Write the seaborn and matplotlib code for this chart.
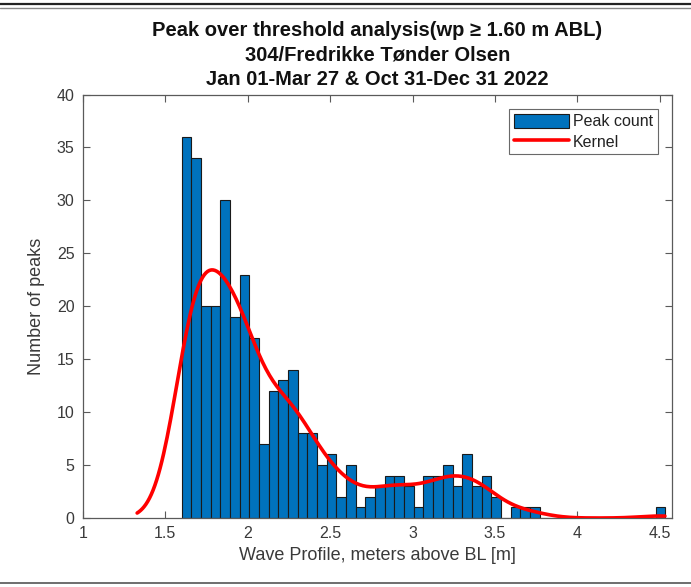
import numpy as np
import pandas as pd
import seaborn as sns
import matplotlib
matplotlib.use("Agg")
import matplotlib.pyplot as plt
from matplotlib.patches import Patch
from matplotlib.lines import Line2D

# Peak counts per wave-profile bin (bins start at the 1.60 m threshold)
bin_start = 1.60
bin_width = 0.05865
peak_counts = [36, 34, 20, 20, 30, 19, 23, 17, 7, 12,
               13, 14, 8, 8, 5, 6, 2, 5, 1, 2,
               3, 4, 4, 3, 1, 4, 4, 5, 3, 6,
               3, 4, 2, 0, 1, 1, 1, 0, 0, 0,
               0, 0, 0, 0, 0, 0, 0, 0, 0, 1]
kernel_bandwidth = 0.12

title_lines = ["Peak over threshold analysis(wp \u2265 1.60 m ABL)",
               "304/Fredrikke T\u00f8nder Olsen",
               "Jan 01-Mar 27 & Oct 31-Dec 31 2022"]
x_ticks = [1, 1.5, 2, 2.5, 3, 3.5, 4, 4.5]
y_ticks = [0, 5, 10, 15, 20, 25, 30, 35, 40]

n_bins = len(peak_counts)
bin_end = bin_start + bin_width * n_bins
centers = bin_start + bin_width * (np.arange(n_bins) + 0.5)
df = pd.DataFrame({"wp": centers, "n": peak_counts})

sns.set_theme(style="white")
plt.rcParams["font.family"] = ["Liberation Sans", "DejaVu Sans"]

fig = plt.figure(figsize=(6.91, 5.87), dpi=100)
ax = fig.add_axes([0.1197, 0.1175, 0.9725 - 0.1197, 0.839 - 0.1175])

w = np.asarray(peak_counts, float)
mean = np.sum(w * centers) / w.sum()
wstd = np.sqrt(np.sum(w * (centers - mean) ** 2) / (w.sum() - 1))

bar_color = "#0072BD"
sns.histplot(data=df, x="wp", weights="n", binwidth=bin_width,
             binrange=(bin_start, bin_end), kde=True,
             color=bar_color, alpha=1.0, edgecolor="#1a1a1a", linewidth=0.8,
             kde_kws={"bw_method": kernel_bandwidth / wstd, "cut": 3,
                      "clip": (1.33, 4.53), "gridsize": 300},
             line_kws={"linewidth": 2.6}, ax=ax)
kernel_line = ax.lines[-1]
kernel_line.set_color("#ff0000")
kernel_line.set_zorder(5)

ax.set_xlim(1, 4.573)
ax.set_ylim(0, 40)
ax.set_xticks(x_ticks)
ax.set_xticklabels([f"{t:g}" for t in x_ticks])
ax.set_yticks(y_ticks)

axis_gray = "#5a5a5a"
for s in ax.spines.values():
    s.set_visible(True)
    s.set_color(axis_gray)
    s.set_linewidth(0.9)
ax.tick_params(direction="in", length=5, width=0.8, colors=axis_gray,
               labelcolor="#3a3a3a", labelsize=11.5, top=True, right=True,
               bottom=True, left=True, pad=6)

ax.set_xlabel("Wave Profile, meters above BL [m]", fontsize=13,
              color="#3a3a3a", labelpad=4)
ax.set_ylabel("Number of peaks", fontsize=13, color="#3a3a3a", labelpad=8)
ax.set_title("\n".join(title_lines), fontsize=14.5, fontweight="bold",
             color="#111111", linespacing=1.37, pad=7)

handles = [Patch(facecolor=bar_color, edgecolor="#1a1a1a", linewidth=0.8),
           Line2D([0], [0], color="#ff0000", linewidth=2.6)]
leg = ax.legend(handles, ["Peak count", "Kernel"], loc="upper right",
                fontsize=11.5, frameon=True, fancybox=False,
                borderaxespad=0.9, handlelength=3.45, handleheight=1.0,
                handletextpad=0.25, borderpad=0.3, labelspacing=0.3)
leg.get_frame().set_edgecolor("#444444")
leg.get_frame().set_linewidth(0.8)
for t in leg.get_texts():
    t.set_color("#222222")

# page frame lines
fig.add_artist(Line2D([0, 1], [1 - 4 / 587] * 2, color="#222222", lw=1.6,
                      transform=fig.transFigure))
fig.add_artist(Line2D([0, 1], [1 - 8 / 587] * 2, color="#888888", lw=1.0,
                      transform=fig.transFigure))
fig.add_artist(Line2D([0, 1], [4 / 587] * 2, color="#555555", lw=1.2,
                      transform=fig.transFigure))

fig.savefig("out.png", dpi=100, facecolor="white")
